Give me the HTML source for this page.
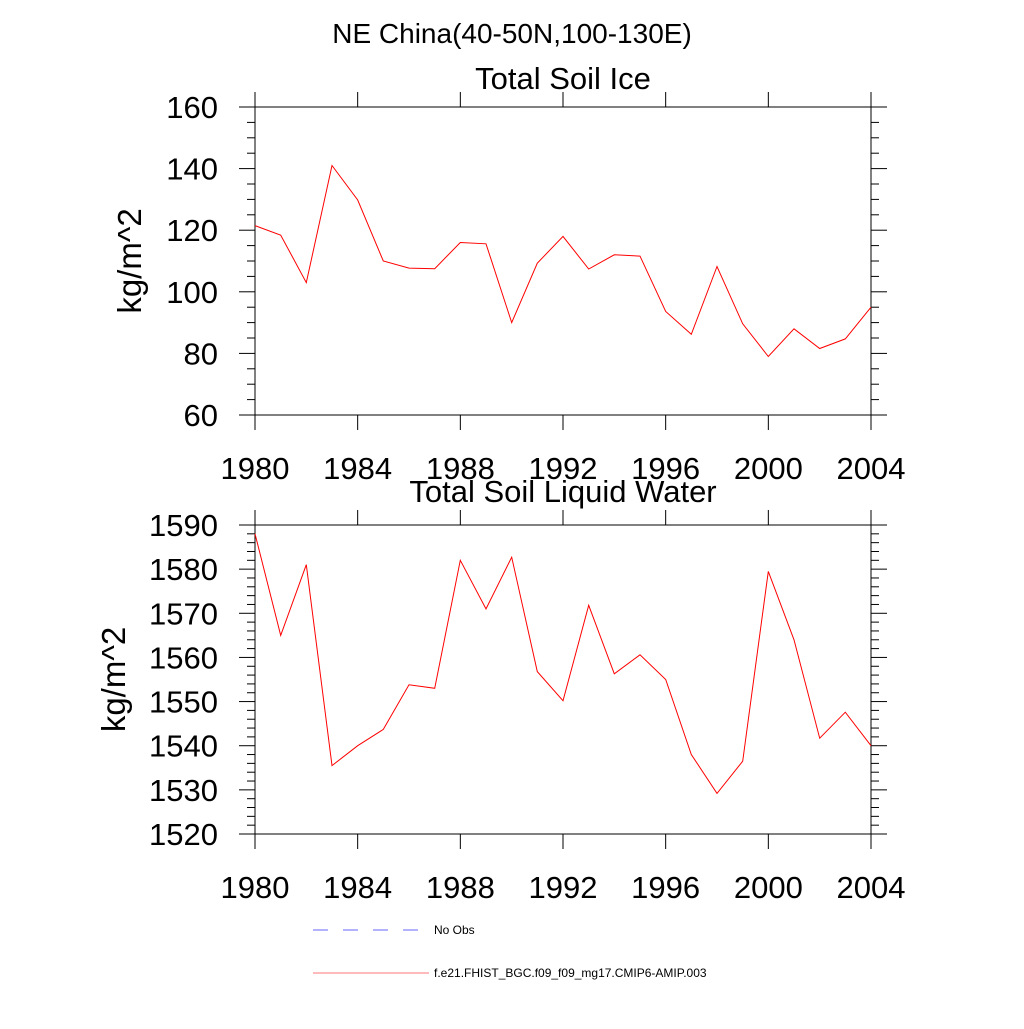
<!DOCTYPE html>
<html><head><meta charset="utf-8"><style>
body{margin:0;background:#fff}
svg text{font-family:"Liberation Sans",sans-serif}
</style></head><body>
<svg id="chart" width="1024" height="1024" xmlns="http://www.w3.org/2000/svg">
<text x="512" y="43" font-size="28" text-anchor="middle">NE China(40-50N,100-130E)</text>
<g id="p1"></g>
<g id="p2"></g>
<g>
<line x1="313" y1="930" x2="418" y2="930" stroke="#6666ff" stroke-width="1" stroke-dasharray="15,15"/>
<text x="434" y="934" font-size="12">No Obs</text>
<line x1="313" y1="973" x2="429" y2="973" stroke="#ff7777" stroke-width="1"/>
<text x="434" y="977" font-size="12">f.e21.FHIST_BGC.f09_f09_mg17.CMIP6-AMIP.003</text>
</g>
</svg>
<script>
const years = [1980,1981,1982,1983,1984,1985,1986,1987,1988,1989,1990,1991,1992,1993,1994,1995,1996,1997,1998,1999,2000,2001,2002,2003,2004];
const iceValues = [121.5,118.4,103,141,129.8,110,107.7,107.5,116,115.6,90,109.3,118,107.4,112,111.6,93.6,86.2,108.2,89.6,79,88,81.6,84.7,95];
const liquidValues = [1588,1565,1581,1535.5,1540,1543.7,1553.8,1553,1582,1571,1582.7,1556.8,1550.2,1571.8,1556.3,1560.6,1555,1538,1529.2,1536.5,1579.5,1564,1541.7,1547.6,1540];
const xTickLabels = ["1980","1984","1988","1992","1996","2000","2004"];
const iceYTicks = [60,80,100,120,140,160];
const liquidYTicks = [1520,1530,1540,1550,1560,1570,1580,1590];
const NS="http://www.w3.org/2000/svg";
function mk(g,tag,attrs){const e=document.createElementNS(NS,tag);for(const k in attrs)e.setAttribute(k,attrs[k]);g.appendChild(e);return e;}
function panel(gid,title,vals,yt,minorStep,top,bottom,titleY){
  const g=document.getElementById(gid);
  const L=255,R=871,x0=1980,x1=2004;
  const ymin=yt[0],ymax=yt[yt.length-1];
  const sx=v=>L+(v-x0)/(x1-x0)*(R-L);
  const sy=v=>bottom-(v-ymin)/(ymax-ymin)*(bottom-top);
  const t=mk(g,'text',{x:563,y:titleY,'font-size':31,'text-anchor':'middle'});t.textContent=title;
  
  
  const box=mk(g,'rect',{x:L,y:top,width:R-L,height:bottom-top,fill:'none',stroke:'#000','stroke-width':1});
  
  
  for(let v=ymin;v<=ymax+1e-9;v+=minorStep){
    const y=sy(v);
    const major=yt.some(m=>Math.abs(m-v)<1e-6);
    const len=major?16:8;
    const a=mk(g,'line',{x1:L-len,y1:y,x2:L,y2:y,stroke:'#000','stroke-width':1});
    
    
    const b=mk(g,'line',{x1:R,y1:y,x2:R+len,y2:y,stroke:'#000','stroke-width':1});
    
    
  }
  yt.forEach(v=>{const tx=mk(g,'text',{x:218,y:sy(v)+11,'font-size':31,'text-anchor':'end'});tx.textContent=v;
    
    });
  xTickLabels.forEach(s=>{const x=sx(+s);
    const a=mk(g,'line',{x1:x,y1:bottom,x2:x,y2:bottom+15,stroke:'#000','stroke-width':1});
    
    
    const b=mk(g,'line',{x1:x,y1:top-15,x2:x,y2:top,stroke:'#000','stroke-width':1});
    
    
    const tx=mk(g,'text',{x:x,y:bottom+64,'font-size':31,'text-anchor':'middle'});tx.textContent=s;
    
    });
  const yl=mk(g,'text',{x:0,y:0,'font-size':33,'text-anchor':'middle',transform:`translate(${gid==='p1'?141:125},${(top+bottom)/2}) rotate(-90)`});yl.textContent='kg/m^2';
  
  
  const pts=vals.map((v,i)=>sx(years[i]).toFixed(1)+','+sy(v).toFixed(1)).join(' ');
  const pl=mk(g,'polyline',{points:pts,fill:'none',stroke:'#ff0000','stroke-width':1});
  
  
}
panel('p1','Total Soil Ice',iceValues,iceYTicks,5,107,415,89);
panel('p2','Total Soil Liquid Water',liquidValues,liquidYTicks,2,525,834,502);
</script>
</body></html>
